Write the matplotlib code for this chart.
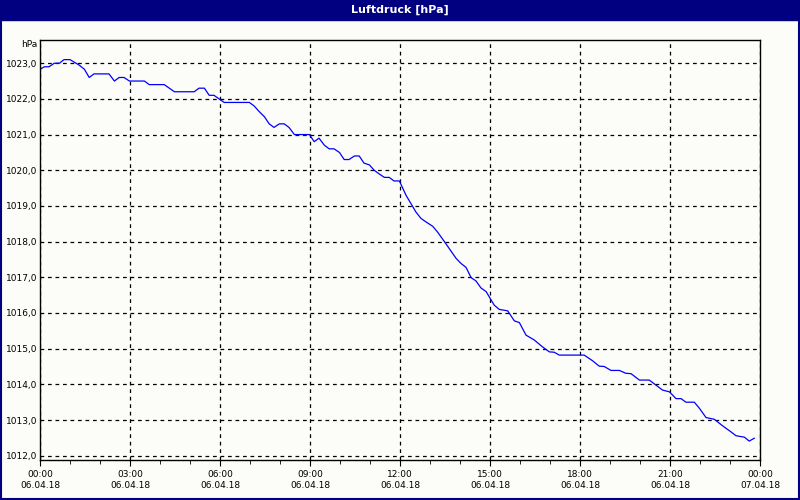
import matplotlib
matplotlib.use("Agg")
import matplotlib.pyplot as plt
from matplotlib.patches import Rectangle
from matplotlib.ticker import MultipleLocator, FixedLocator

hours = [0,0.15,0.3,0.48,0.65,0.8,1.0,1.3,1.48,1.64,1.8,2.3,2.48,2.64,2.8,2.98,3.48,3.64,4.14,4.48,5.14,5.3,5.48,5.64,5.8,6.14,6.98,7.14,7.3,7.48,7.64,7.8,7.98,8.14,8.3,8.48,8.98,9.14,9.3,9.48,9.64,9.8,9.98,10.14,10.3,10.48,10.64,10.8,10.98,11.14,11.3,11.48,11.64,11.8,11.98,
         12.2,12.53,12.7,12.87,13.09,13.25,13.48,13.87,14.03,14.2,14.37,14.53,14.7,14.87,15.14,15.31,15.59,15.81,15.98,16.2,16.48,16.75,16.98,17.14,17.31,18.14,18.42,18.64,18.81,19.03,19.31,19.53,19.7,19.98,20.31,20.53,20.75,20.98,21.2,21.37,21.53,21.81,21.98,22.2,22.48,22.75,23.03,23.2,23.48,23.64,23.81]
pressure = [1022.83,1022.9,1022.9,1023.0,1023.0,1023.1,1023.1,1022.95,1022.83,1022.6,1022.7,1022.7,1022.5,1022.6,1022.6,1022.5,1022.5,1022.4,1022.4,1022.2,1022.2,1022.3,1022.3,1022.1,1022.1,1021.9,1021.9,1021.8,1021.65,1021.5,1021.3,1021.2,1021.3,1021.3,1021.2,1021.0,1021.0,1020.8,1020.9,1020.7,1020.6,1020.6,1020.5,1020.3,1020.3,1020.4,1020.4,1020.2,1020.15,1020.0,1019.9,1019.8,1019.8,1019.7,1019.7,
            1019.3,1018.83,1018.65,1018.55,1018.43,1018.27,1018.0,1017.53,1017.39,1017.28,1016.99,1016.9,1016.7,1016.6,1016.22,1016.1,1016.06,1015.78,1015.73,1015.38,1015.24,1015.05,1014.91,1014.9,1014.82,1014.82,1014.66,1014.51,1014.5,1014.39,1014.39,1014.31,1014.3,1014.12,1014.12,1013.98,1013.84,1013.79,1013.6,1013.6,1013.5,1013.5,1013.33,1013.07,1013.02,1012.84,1012.67,1012.56,1012.52,1012.41,1012.49]
tick_hours = [0,3,6,9,12,15,18,21,24]
tick_labels = ["00:00\n06.04.18","03:00\n06.04.18","06:00\n06.04.18","09:00\n06.04.18","12:00\n06.04.18",
               "15:00\n06.04.18","18:00\n06.04.18","21:00\n06.04.18","00:00\n07.04.18"]
y_ticks = list(range(1012, 1024))

plt.rcParams['font.family'] = ['DejaVu Sans']
fig = plt.figure(figsize=(8,5), dpi=100, facecolor='#FCFCF8')
fig.patches.append(Rectangle((0,0.96),1,0.04,transform=fig.transFigure,color='#000080',zorder=0))
fig.patches.append(Rectangle((0.0015,0.002),0.997,0.996,transform=fig.transFigure,fill=False,ec='#000080',lw=1.5))
fig.text(0.5,0.98,"Luftdruck [hPa]",color='white',fontsize=8,fontweight='bold',ha='center',va='center')

ax = fig.add_axes([0.05,0.08,0.9,0.84])
ax.set_facecolor('#FCFCF8')
ax.plot(hours, pressure, color='#0000FF', lw=0.9)
ax.set_xlim(0,24)
ax.set_ylim(1011.88,1023.65)
ax.xaxis.set_major_locator(FixedLocator(tick_hours))
ax.set_xticklabels(tick_labels)
ax.xaxis.set_minor_locator(MultipleLocator(1))
ax.set_yticks(y_ticks)
ax.set_yticklabels([f"{v},0" for v in y_ticks])
ax.grid(True, which='major', color='black', ls=(0,(3,3)), lw=0.9)
ax.tick_params(axis='x', labelsize=6.5, length=4, width=0.8, direction='out')
ax.tick_params(axis='x', which='minor', length=3)
ax.tick_params(axis='y', labelsize=6.5, length=0, pad=2)
for s in ax.spines.values():
    s.set_color('black'); s.set_linewidth(1)
ax.text(-0.003,1.0,"hPa",transform=ax.transAxes,fontsize=6.5,ha='right',va='top')
fig.savefig("out.png", dpi=100, facecolor=fig.get_facecolor())
